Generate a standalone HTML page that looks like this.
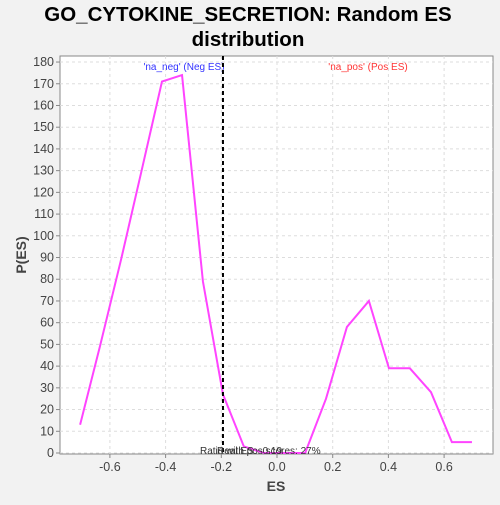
<!DOCTYPE html>
<html><head><meta charset="utf-8"><style>
body{margin:0;background:#f2f2f2;width:500px;height:500px;overflow:hidden;font-family:"Liberation Sans",sans-serif}
</style></head><body>
<svg width="500" height="500" xmlns="http://www.w3.org/2000/svg">
<text x="248" y="21" text-anchor="middle" font-size="20.5" font-weight="bold" fill="#000">GO_CYTOKINE_SECRETION: Random ES</text>
<text x="248" y="46" text-anchor="middle" font-size="20.5" font-weight="bold" fill="#000">distribution</text>
<rect x="60" y="56" width="433" height="398" fill="#fff" stroke="#888"/>
<g id="grid"></g><g id="yt"></g><g id="xt"></g>
<text x="276" y="491" text-anchor="middle" font-size="14" font-weight="bold" fill="#444">ES</text>
<text transform="translate(26,255) rotate(-90)" text-anchor="middle" font-size="14" font-weight="bold" fill="#444">P(ES)</text>
<text x="184" y="70" text-anchor="middle" font-size="10" fill="#3333ff">'na_neg' (Neg ES)</text>
<text x="368" y="70" text-anchor="middle" font-size="10" fill="#ff3333">'na_pos' (Pos ES)</text>
<g id="marks"></g>
<text x="200" y="454" font-size="10" fill="#333">Ratio with pos scores: 27%</text>
<text x="217" y="454" font-size="10" fill="#333">Real ES: -0.19</text>
</svg>
<script>
const xs=[-0.707,-0.636,-0.560,-0.488,-0.413,-0.341,-0.266,-0.194,-0.119,-0.047,0.029,0.101,0.176,0.251,0.330,0.402,0.477,0.553,0.628,0.700];
const ys=[13,49,89,129,171,174,79,27,3,0,0,0,25,58,70,39,39,28,5,5];
const realES=-0.194;
const yTicks=[0,10,20,30,40,50,60,70,80,90,100,110,120,130,140,150,160,170,180];
const xTicks=[-0.6,-0.4,-0.2,0.0,0.2,0.4,0.6];
const X=v=>277+v*278.5, Y=v=>453-v*2.172;
const NS="http://www.w3.org/2000/svg";
function mk(t,a,p){const e=document.createElementNS(NS,t);for(const k in a)e.setAttribute(k,a[k]);document.getElementById(p).appendChild(e);return e;}
yTicks.forEach(v=>{
 const g=mk('line',{x1:60,x2:493,y1:Y(v),y2:Y(v),stroke:'#ddd','stroke-dasharray':'3,3'},'grid');
 
 
 const tk=mk('line',{x1:56,x2:60,y1:Y(v),y2:Y(v),stroke:'#888'},'yt');
 
 
 const t=mk('text',{x:54,y:Y(v)+4,'text-anchor':'end','font-size':12.5,fill:'#444'},'yt');t.textContent=v;
 
 
});
xTicks.forEach(v=>{
 const g=mk('line',{x1:X(v),x2:X(v),y1:56,y2:454,stroke:'#ddd','stroke-dasharray':'3,3'},'grid');
 
 
 const tk=mk('line',{x1:X(v),x2:X(v),y1:454,y2:458,stroke:'#888'},'xt');
 
 
 const t=mk('text',{x:X(v),y:471,'text-anchor':'middle','font-size':12.5,fill:'#444'},'xt');t.textContent=v.toFixed(1);
 
 
});
const pl=mk('polyline',{points:xs.map((x,i)=>X(x)+','+Y(ys[i])).join(' '),fill:'none',stroke:'#ff44ff','stroke-width':2},'marks');


const rl=mk('line',{x1:X(realES),x2:X(realES),y1:56,y2:454,stroke:'#000','stroke-width':2,'stroke-dasharray':'4,3'},'marks');


</script>
</body></html>
